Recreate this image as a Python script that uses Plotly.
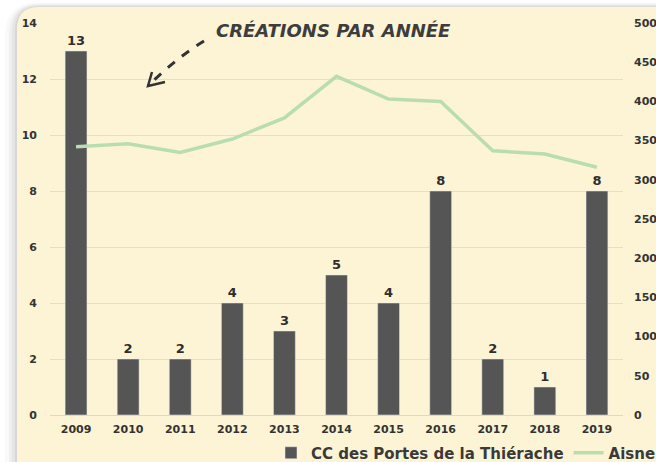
import plotly.graph_objects as go

years = ["2009", "2010", "2011", "2012", "2013", "2014", "2015", "2016", "2017", "2018", "2019"]
cc_values = [13, 2, 2, 4, 3, 5, 4, 8, 2, 1, 8]
aisne_values = [342, 346, 335, 352, 379, 432, 403, 400, 337, 333, 316]
bar_name = "CC des Portes de la Thiérache"
line_name = "Aisne"
title_text = "CRÉATIONS PAR ANNÉE"

W, H = 656, 462
L, R, T, B = 50, 33, 23, 47
PW, PH = W - L - R, H - T - B

def px(x):
    return (x - L) / PW

def py(y):
    return (H - B - y) / PH

FONT = "DejaVu Sans"
TXT = "#333333"

fig = go.Figure()
fig.add_trace(go.Bar(
    x=years, y=cc_values, name=bar_name, marker_color="#555555",
    text=cc_values, textposition="outside", cliponaxis=False,
    textfont=dict(family=FONT, size=13, color="#2e2e2e", weight=700),
))
fig.add_trace(go.Scatter(
    x=years, y=aisne_values, name=line_name, yaxis="y2", mode="lines",
    line=dict(color="#B9DDB1", width=3.5),
))

def card(x0, y0, x1, y1, r):
    return (f"M {px(x0)},{py(y0 + r)} Q {px(x0)},{py(y0)} {px(x0 + r)},{py(y0)} "
            f"L {px(x1)},{py(y0)} L {px(x1)},{py(y1)} L {px(x0)},{py(y1)} Z")

shapes = []
# soft shadow around the card
for d, op in [(12, 0.025), (8, 0.035), (5, 0.045), (2, 0.06)]:
    shapes.append(dict(type="path", xref="paper", yref="paper",
                       path=card(17 - d, 7 - d * 0.4, 720, 520, 22 + d),
                       fillcolor=f"rgba(0,0,0,{op})", line=dict(width=0), layer="below"))
shapes.append(dict(type="path", xref="paper", yref="paper", path=card(17, 7, 720, 520, 22),
                   fillcolor="#FDF4D6", line=dict(width=0), layer="below"))
# dashed arrow
shapes.append(dict(type="path", xref="paper", yref="paper",
                   path=f"M {px(204)},{py(41)} Q {px(178)},{py(57)} {px(151)},{py(83)}",
                   line=dict(color="#333333", width=3, dash="dash")))
shapes.append(dict(type="path", xref="paper", yref="paper",
                   path=f"M {px(152)},{py(72)} L {px(148)},{py(86)} L {px(165)},{py(82)}",
                   line=dict(color="#333333", width=2.5)))

fig.update_layout(
    width=W, height=H,
    margin=dict(l=L, r=R, t=T, b=B, pad=0, autoexpand=False),
    paper_bgcolor="white", plot_bgcolor="rgba(0,0,0,0)",
    font=dict(family=FONT, color=TXT),
    bargap=0.58,
    shapes=shapes,
    showlegend=True,
    legend=dict(orientation="h", x=px(271), xanchor="left", y=py(453), yanchor="middle",
                font=dict(family=FONT, size=15, color="#3a3a3a", weight=700),
                bgcolor="rgba(0,0,0,0)", itemwidth=30, tracegroupgap=0),
    xaxis=dict(showgrid=False, showline=True, linecolor="#dcd8cc", linewidth=1,
               tickfont=dict(family=FONT, size=11, color=TXT, weight=700),
               ticks="", ticklabelstandoff=4, automargin=False),
    yaxis=dict(range=[0, 14], dtick=2, showgrid=True, gridcolor="#E3DECD", gridwidth=1,
               zeroline=False, ticks="", ticklabelstandoff=12, automargin=False,
               tickfont=dict(family=FONT, size=11, color=TXT, weight=700)),
    yaxis2=dict(range=[0, 500], dtick=50, overlaying="y", side="right", showgrid=False,
                zeroline=False, ticks="", ticklabelstandoff=10, automargin=False,
                tickfont=dict(family=FONT, size=11, color=TXT, weight=700)),
    annotations=[dict(text=f"<i><b>{title_text}</b></i>", xref="paper", yref="paper",
                      x=px(333), y=py(30), xanchor="center", yanchor="middle",
                      showarrow=False,
                      font=dict(family=FONT, size=18, color="#3d3d3d"))],
)

fig.write_html(
    "out.html",
    config={"displayModeBar": False},
    post_script="document.body.style.margin='0';document.body.style.overflow='hidden';",
)
